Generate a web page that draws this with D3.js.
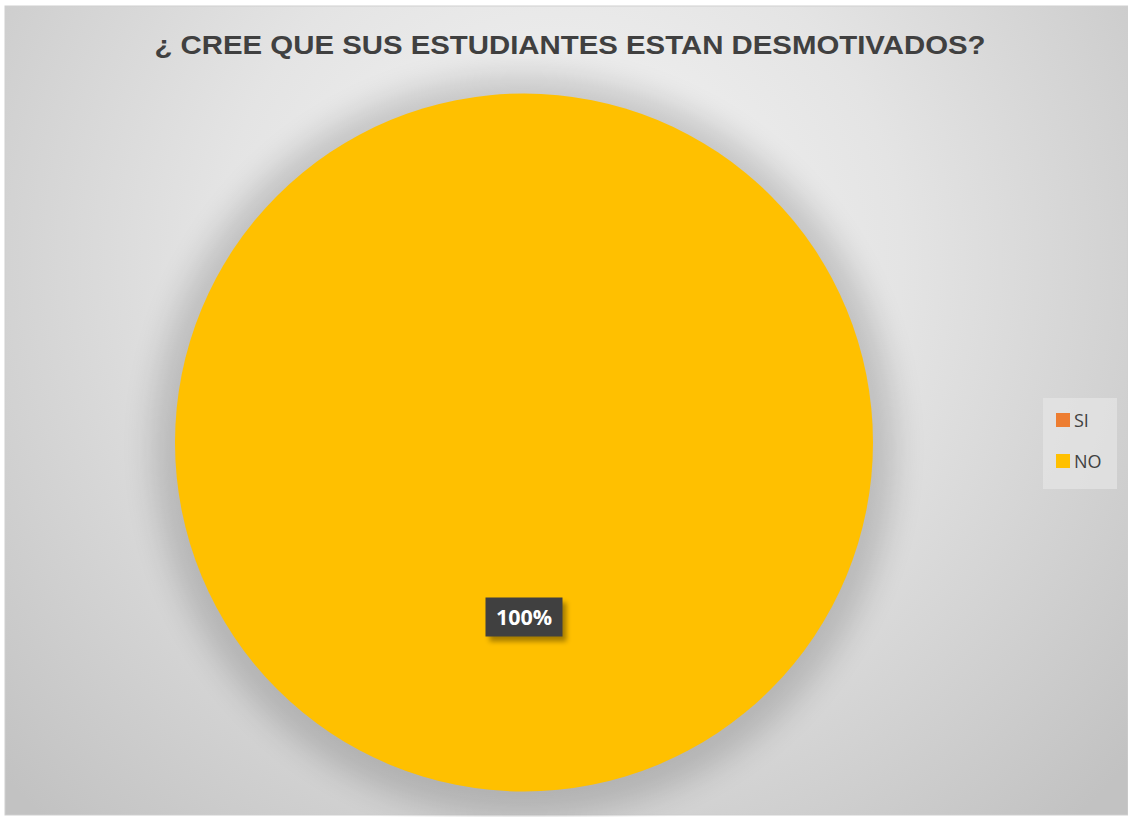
<!DOCTYPE html>
<html><head><meta charset="utf-8">
<script src="https://cdn.jsdelivr.net/npm/d3@7"></script>
<style>html,body{margin:0;padding:0;background:#fff;}svg{display:block;}</style>
</head><body>
<script>
const title = "¿ CREE QUE SUS ESTUDIANTES ESTAN DESMOTIVADOS?";
const categories = ["SI", "NO"];
const values = [0, 100];
const colors = ["#ED7D31", "#FFC000"];
const labels = ["", "100%"];

const W = 1128, H = 817;
const svg = d3.select("body").append("svg").attr("width", W).attr("height", H);
const defs = svg.append("defs");
const grad = defs.append("radialGradient").attr("id","bg")
  .attr("gradientUnits","userSpaceOnUse").attr("cx",560).attr("cy",260).attr("r",760);
grad.append("stop").attr("offset","0%").attr("stop-color","#f6f6f6");
grad.append("stop").attr("offset","45%").attr("stop-color","#e4e4e4");
grad.append("stop").attr("offset","100%").attr("stop-color","#c2c2c2");
const f = defs.append("filter").attr("id","sh").attr("x","-20%").attr("y","-20%").attr("width","140%").attr("height","140%");
f.append("feGaussianBlur").attr("stdDeviation",16);
const f2 = defs.append("filter").attr("id","lsh").attr("x","-30%").attr("y","-30%").attr("width","160%").attr("height","160%");
f2.append("feGaussianBlur").attr("stdDeviation",2.5);

svg.append("rect").attr("x",5).attr("y",6).attr("width",W-5).attr("height",809)
  .attr("fill","url(#bg)").attr("stroke","#cfcfcf").attr("stroke-width",1);

svg.append("text").attr("x",570).attr("y",54).attr("text-anchor","middle")
  .attr("font-family","Liberation Sans, Arial, sans-serif").attr("font-weight","bold")
  .attr("font-size",26.5).attr("fill","#404040")
  .attr("textLength",831).attr("lengthAdjust","spacingAndGlyphs").text(title);

const cx = 524, cy = 442.5, r = 349;
const pie = d3.pie().sort(null)(values);
const arc = d3.arc().innerRadius(0).outerRadius(r);
const g = svg.append("g").attr("transform",`translate(${cx},${cy})`);
g.append("circle").attr("cx",0).attr("cy",4).attr("r",r+22).attr("fill","#000").attr("opacity",0.16).attr("filter","url(#sh)");
g.selectAll("path.s").data(pie).enter().append("path").attr("class","s")
  .attr("d",arc).attr("fill",(d,i)=>colors[i]);

const lblArc = d3.arc().innerRadius(r*0.5).outerRadius(r*0.5);
pie.forEach((d,i)=>{
  if(!labels[i]) return;
  const p = lblArc.centroid(d);
  const bw = 77, bh = 39;
  const gx = p[0], gy = p[1];
  g.append("rect").attr("x",gx-bw/2+4).attr("y",gy-bh/2+5).attr("width",bw).attr("height",bh)
    .attr("fill","#000").attr("opacity",0.35).attr("filter","url(#lsh)");
  g.append("rect").attr("x",gx-bw/2).attr("y",gy-bh/2).attr("width",bw).attr("height",bh).attr("fill","#404040");
  g.append("text").attr("x",gx).attr("y",gy+8).attr("text-anchor","middle")
    .attr("font-family","Open Sans, Liberation Sans, sans-serif").attr("font-weight","bold")
    .attr("font-size",21.5).attr("fill","#ffffff").text(labels[i]);
});

const lg = svg.append("g");
lg.append("rect").attr("x",1043).attr("y",398).attr("width",74).attr("height",91).attr("fill","#e6e6e6").attr("opacity",0.7);
categories.forEach((c,i)=>{
  const y = 420 + i*41;
  lg.append("rect").attr("x",1056).attr("y",y-7).attr("width",14).attr("height",14).attr("fill",colors[i]);
  lg.append("text").attr("x",1074).attr("y",y+6.5).attr("font-family","Open Sans, Liberation Sans, sans-serif")
    .attr("font-size",18).attr("fill","#404040").text(c);
});
</script>
</body></html>
